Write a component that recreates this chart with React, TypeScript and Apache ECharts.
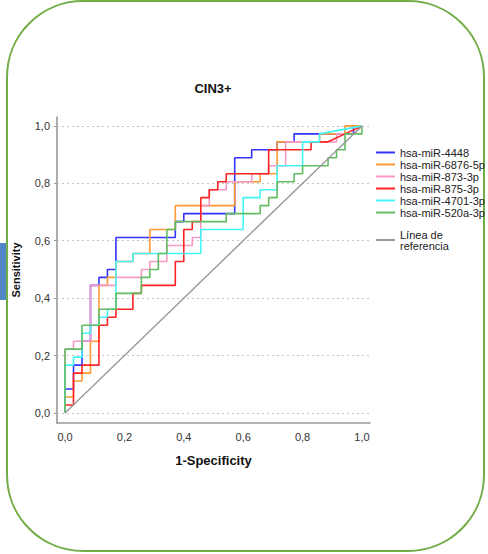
import React, { useEffect, useRef } from "react";
import * as echarts from "echarts";

// Totals of negative / positive cases (ROC step size)
const NEG = 35;
const POS = 36;

const seriesNames = [
  "hsa-miR-4448",
  "hsa-miR-6876-5p",
  "hsa-miR-873-3p",
  "hsa-miR-875-3p",
  "hsa-miR-4701-3p",
  "hsa-miR-520a-3p",
];
const refName = "Línea de\nreferencia";

// ROC vertices as [false positives, true positives] counts
const roc4448 = [[0,0],[0,3],[1,3],[1,6],[2,6],[2,9],[3,9],[3,16],[4,16],[4,17],[5,17],[5,18],[6,18],[6,22],[13,22],[13,24],[14,24],[14,25],[20,25],[20,32],[22,32],[22,33],[25,33],[25,34],[27,34],[27,35],[34,35],[34,36],[35,36]];
const roc6876 = [[0,0],[0,2],[1,2],[1,4],[2,4],[2,5],[3,5],[3,9],[4,9],[4,16],[5,16],[5,17],[6,17],[6,19],[8,19],[8,20],[10,20],[10,23],[13,23],[13,26],[20,26],[20,29],[23,29],[23,30],[25,30],[25,34],[30,34],[30,35],[33,35],[33,36],[35,36]];
const roc873 = [[0,0],[0,8],[1,8],[1,9],[3,9],[3,16],[6,16],[6,17],[9,17],[9,18],[10,18],[10,19],[12,19],[12,21],[15,21],[15,22],[16,22],[16,26],[17,26],[17,28],[19,28],[19,29],[22,29],[22,30],[24,30],[24,31],[26,31],[26,34],[32,34],[32,35],[34,35],[35,36]];
const roc875 = [[0,0],[0,1],[1,1],[1,5],[2,5],[2,6],[4,6],[4,11],[5,11],[5,12],[6,12],[6,13],[8,13],[8,15],[9,15],[9,16],[13,16],[13,19],[14,19],[14,23],[15,23],[15,24],[16,24],[16,27],[17,27],[17,28],[18,28],[18,29],[19,29],[19,30],[24,30],[24,33],[29,33],[29,34],[31,34],[33,35],[35,36]];
const roc4701 = [[0,0],[0,6],[1,6],[1,7],[2,7],[2,10],[3,10],[3,11],[4,11],[4,12],[5,12],[5,13],[6,13],[6,19],[8,19],[8,20],[16,20],[16,23],[21,23],[21,27],[23,27],[23,28],[25,28],[25,31],[28,31],[28,34],[30,34],[30,35],[35,36]];
const roc520a = [[0,0],[0,8],[2,8],[2,11],[4,11],[4,13],[6,13],[6,15],[9,15],[9,17],[10,17],[10,18],[11,18],[11,20],[12,20],[12,23],[13,23],[13,24],[19,24],[19,25],[23,25],[23,26],[24,26],[24,27],[25,27],[25,29],[27,29],[27,30],[28,30],[28,31],[31,31],[31,32],[32,32],[32,33],[33,33],[33,35],[35,35],[35,36]];
const refLine = [[0, 0], [1, 1]];

const tickValues = [0, 0.2, 0.4, 0.6, 0.8, 1.0];
const colors = ["#3333ff", "#ff9933", "#f799c6", "#ff2222", "#44f6f6", "#62bd62"];

const toRate = (pts: number[][]) => pts.map(([fp, tp]) => [fp / NEG, tp / POS]);

export default function App() {
  const ref = useRef<HTMLDivElement>(null);
  useEffect(() => {
    if (!ref.current) return;
    const chart = echarts.init(ref.current, null, { renderer: "svg" });
    const rocs = [roc4448, roc6876, roc873, roc875, roc4701, roc520a];
    const fmt = (v: number) => v.toFixed(1).replace(".", ",");
    const font = "Liberation Sans, Arial, sans-serif";
    const series: any[] = rocs.map((r, k) => ({
      name: seriesNames[k],
      type: "line",
      data: toRate(r),
      symbol: "none",
      showSymbol: false,
      color: colors[k],
      lineStyle: { width: 1.6, color: colors[k] },
      silent: true,
      z: 3,
    }));
    series.push({
      name: refName,
      type: "line",
      data: refLine,
      symbol: "none",
      color: "#999999",
      lineStyle: { width: 1.4, color: "#999999" },
      z: 3,
      markLine: {
        silent: true,
        symbol: "none",
        label: { show: false },
        lineStyle: { type: [2, 3], color: "#c4c4c4", width: 1 },
        data: tickValues.map((v) => ({ yAxis: v })),
        z: 1,
      },
    });
    const legendCommon = {
      orient: "vertical",
      left: 376,
      padding: 0,
      icon: "rect",
      itemWidth: 19,
      itemHeight: 2,
      selectedMode: false,
      textStyle: { fontSize: 11, color: "#222", lineHeight: 11, fontFamily: font },
    };
    chart.setOption({
      animation: false,
      backgroundColor: "#ffffff",
      textStyle: { fontFamily: font },
      grid: { left: 57, top: 117, width: 313, height: 306, containLabel: false },
      xAxis: {
        type: "value",
        min: -0.027,
        max: 1.027,
        name: "1-Specificity",
        nameLocation: "middle",
        nameGap: 31,
        nameTextStyle: { fontSize: 13, fontWeight: "bold", color: "#111", fontFamily: font },
        axisLine: { show: true, onZero: false, lineStyle: { color: "#999", width: 1.6 } },
        axisTick: { show: false },
        splitLine: { show: false },
        axisLabel: {
          customValues: tickValues,
          formatter: fmt,
          fontSize: 11,
          color: "#333",
          margin: 8,
          fontFamily: font,
        },
      },
      yAxis: {
        type: "value",
        min: -0.035,
        max: 1.031,
        name: "Sensitivity",
        nameLocation: "middle",
        nameRotate: 90,
        nameGap: 36,
        nameTextStyle: { fontSize: 11, fontWeight: "bold", color: "#111", fontFamily: font },
        axisLine: { show: true, onZero: false, lineStyle: { color: "#999", width: 1.6 } },
        axisTick: { show: true, customValues: tickValues, length: 3, lineStyle: { color: "#999" } },
        splitLine: { show: false },
        axisLabel: {
          customValues: tickValues,
          formatter: fmt,
          fontSize: 11,
          color: "#333",
          margin: 7,
          fontFamily: font,
        },
      },
      legend: [
        { ...legendCommon, data: seriesNames, top: 147, itemGap: 1 },
        { ...legendCommon, data: [refName], top: 229 },
      ],
      graphic: [
        {
          type: "rect",
          shape: { x: 7, y: 1, width: 477, height: 550, r: 76 },
          style: { fill: "none", stroke: "#70ad47", lineWidth: 2 },
          silent: true,
        },
        {
          type: "rect",
          shape: { x: 0, y: 243, width: 6, height: 57 },
          style: { fill: "#4f87c9" },
          silent: true,
        },
        {
          type: "text",
          x: 213,
          y: 88,
          style: {
            text: "CIN3+",
            fontSize: 13,
            fontWeight: "bold",
            fill: "#111",
            align: "center",
            verticalAlign: "middle",
            fontFamily: font,
          },
        },
      ],
      series,
    });
    return () => chart.dispose();
  }, []);
  return (
    <div
      ref={ref}
      style={{ position: "fixed", left: 0, top: 0, width: 488, height: 554 }}
    />
  );
}
